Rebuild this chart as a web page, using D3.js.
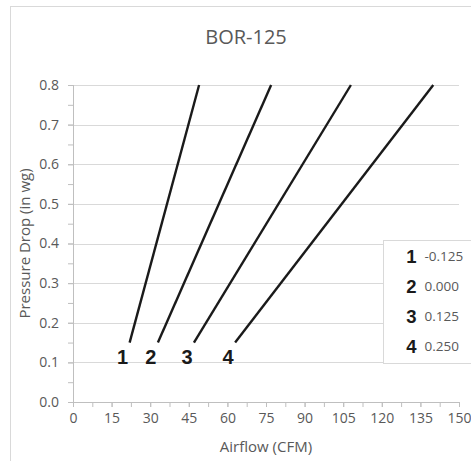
<!DOCTYPE html>
<html>
<head>
<meta charset="utf-8">
<script src="https://cdnjs.cloudflare.com/ajax/libs/d3/7.8.5/d3.min.js"></script>
<style>
    body { margin: 0; background: #fff; }
    .svg text { font-family: "Open Sans", sans-serif; }
</style>
</head>
<body>
<div id="chart"></div>
<script>
/* Data */
var seriesLabels   = ["1", "2", "3", "4"];
var legendValues   = ["-0.125", "0.000", "0.125", "0.250"];
var lowAirflow     = [22, 33, 47, 63];     // CFM at the low end of each line
var highAirflow    = [49, 77, 108, 140];   // CFM at the high end of each line
var pressureEnds   = [0.15, 0.8];          // in wg at the two ends
var xTicks         = [0, 15, 30, 45, 60, 75, 90, 105, 120, 135, 150];
var yTicks         = [0, 0.1, 0.2, 0.3, 0.4, 0.5, 0.6, 0.7, 0.8];

var width   = 471,
    height  = 461,
    margins = {top: 85, bottom: 59, left: 73, right: 12};

/**
 * Draws the whole chart
 *
 * @param {Element} element
 */
function drawChart(element){
    var svg = d3.select(element)
        .append("svg")
            .attr("class", "svg")
            .attr("width", width)
            .attr("height", height);

    // outer chart border (right and bottom fall off the picture)
    svg.append("rect")
        .attr("x", 10.5)
        .attr("y", 6.5)
        .attr("width", width + 20)
        .attr("height", height + 20)
        .attr("fill", "#fff")
        .attr("stroke", "#d9d9d9");

    var w = width - margins.left - margins.right,
        h = height - margins.top - margins.bottom;

    var main = svg.append("g")
        .attr("class", "main")
        .attr("transform", "translate(" + margins.left + "," + margins.top + ")");

    /* Scales */
    var x = d3.scaleLinear().domain([0, 150]).range([0, w]);
    var y = d3.scaleLinear().domain([0, 0.8]).range([h, 0]);

    /* Grid */
    main.append("g")
        .attr("class", "grid")
        .selectAll("line")
        .data(yTicks.slice(1))
        .enter()
        .append("line")
            .attr("x1", 0)
            .attr("x2", w)
            .attr("y1", function(d) { return Math.round(y(d)) + 0.5; })
            .attr("y2", function(d) { return Math.round(y(d)) + 0.5; })
            .attr("stroke", "#d9d9d9");

    /* Axes */
    var minorX = d3.range(0, 150.1, 7.5),
        minorY = d3.range(0, 0.801, 0.05);

    var xAxis = main.append("g")
        .attr("class", "xAxis")
        .attr("transform", "translate(0," + h + ")");
    xAxis.call(d3.axisBottom(x).tickValues(minorX).tickSize(5).tickFormat(""));
    xAxis.append("g")
        .call(d3.axisBottom(x).tickValues(xTicks).tickSize(5).tickPadding(6)
            .tickFormat(d3.format("d")));

    var yAxis = main.append("g")
        .attr("class", "yAxis");
    yAxis.call(d3.axisLeft(y).tickValues(minorY).tickSize(5).tickFormat(""));
    yAxis.append("g")
        .call(d3.axisLeft(y).tickValues(yTicks).tickSize(5).tickPadding(9)
            .tickFormat(d3.format(".1f")));

    main.selectAll(".domain, .tick line").attr("stroke", "#bfbfbf");
    main.selectAll(".tick text")
        .attr("fill", "#595959")
        .style("font-size", "14px");

    /* Lines */
    var lines = seriesLabels.map(function(s, i){
        return [[lowAirflow[i], pressureEnds[0]], [highAirflow[i], pressureEnds[1]]];
    });
    main.selectAll(".series")
        .data(lines)
        .enter()
        .append("path")
            .attr("class", "series")
            .attr("d", d3.line().x(function(d) { return x(d[0]); }).y(function(d) { return y(d[1]); }))
            .attr("fill", "none")
            .attr("stroke", "#1a1a1a")
            .attr("stroke-width", 2.4);

    // number below the low end of each line
    main.selectAll(".seriesLabel")
        .data(seriesLabels)
        .enter()
        .append("text")
            .attr("class", "seriesLabel")
            .attr("x", function(d, i) { return x(lowAirflow[i]) - 7; })
            .attr("y", y(pressureEnds[0]) + 21)
            .attr("text-anchor", "middle")
            .style("font-family", "'Liberation Sans', Arial, sans-serif")
            .style("font-weight", "bold")
            .style("font-size", "20px")
            .attr("fill", "#1a1a1a")
            .text(function(d) { return d; });

    /* Legend */
    var legend = svg.append("g")
        .attr("class", "legend")
        .attr("transform", "translate(383.5,240.5)");
    legend.append("rect")
        .attr("width", 100)
        .attr("height", 123)
        .attr("fill", "#fff")
        .attr("stroke", "#d9d9d9");
    var items = legend.selectAll(".item")
        .data(seriesLabels)
        .enter()
        .append("g")
            .attr("class", "item")
            .attr("transform", function(d, i) { return "translate(0," + (22.5 + i * 30) + ")"; });
    items.append("text")
        .attr("x", 28)
        .attr("text-anchor", "middle")
        .style("font-family", "'Liberation Sans', Arial, sans-serif")
        .style("font-weight", "bold")
        .style("font-size", "18.5px")
        .attr("fill", "#1a1a1a")
        .text(function(d) { return d; });
    items.append("text")
        .attr("x", 41)
        .attr("y", -2)
        .attr("fill", "#595959")
        .style("font-size", "13.5px")
        .text(function(d, i) { return legendValues[i]; });

    /* Titles */
    svg.append("text")
        .attr("x", margins.left + w / 2 - 20)
        .attr("y", 44)
        .attr("text-anchor", "middle")
        .attr("fill", "#595959")
        .style("font-size", "20px")
        .text("BOR-125");
    svg.append("text")
        .attr("x", margins.left + w / 2)
        .attr("y", 452)
        .attr("text-anchor", "middle")
        .attr("fill", "#595959")
        .style("font-size", "15px")
        .text("Airflow (CFM)");
    svg.append("text")
        .attr("transform", "translate(30," + (margins.top + h / 2) + ") rotate(-90)")
        .attr("text-anchor", "middle")
        .attr("fill", "#595959")
        .style("font-size", "15px")
        .text("Pressure Drop (in wg)");
}

drawChart(document.getElementById("chart"));
</script>
</body>
</html>
